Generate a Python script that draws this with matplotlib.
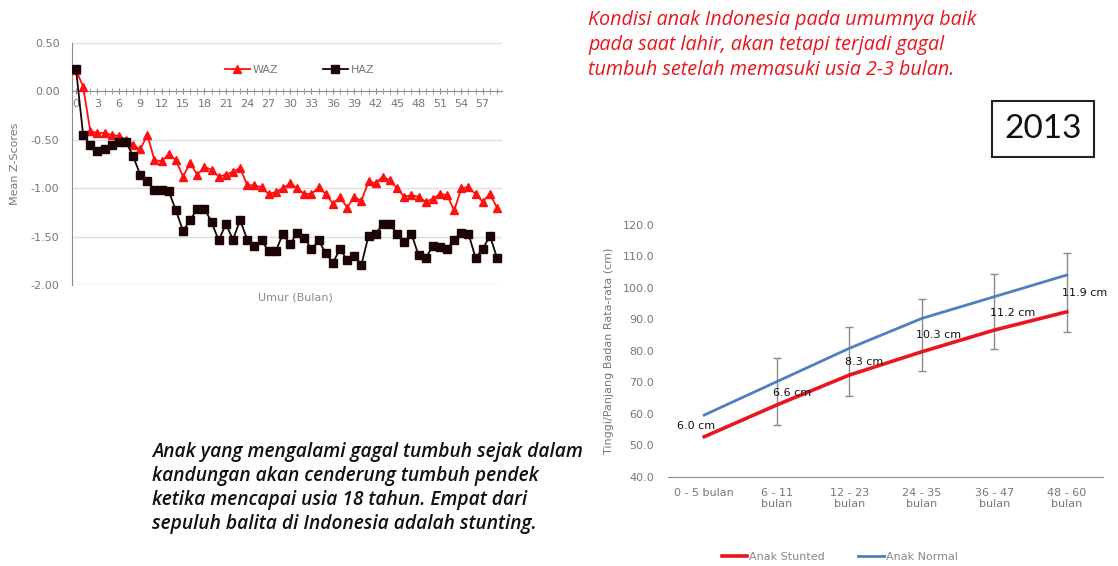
import numpy as np
import matplotlib
matplotlib.use("Agg")
import matplotlib.pyplot as plt
from matplotlib.ticker import MultipleLocator, FormatStrFormatter

W, H = 1118, 566

# ---------------- data: left chart (Z-scores by age in months) ----------------
months = list(range(60))
waz = [0.22, 0.05, -0.41, -0.43, -0.43, -0.45, -0.46, -0.50, -0.55, -0.60,
       -0.45, -0.71, -0.72, -0.65, -0.71, -0.88, -0.74, -0.86, -0.78, -0.81,
       -0.88, -0.86, -0.83, -0.79, -0.97, -0.97, -0.99, -1.06, -1.04, -1.00,
       -0.95, -1.00, -1.06, -1.06, -0.99, -1.06, -1.16, -1.09, -1.20, -1.09,
       -1.13, -0.93, -0.95, -0.88, -0.92, -1.00, -1.09, -1.07, -1.09, -1.14,
       -1.11, -1.06, -1.07, -1.23, -1.00, -0.99, -1.06, -1.14, -1.06, -1.20]
haz = [0.23, -0.45, -0.55, -0.62, -0.60, -0.55, -0.52, -0.52, -0.67, -0.86,
       -0.93, -1.02, -1.02, -1.03, -1.23, -1.44, -1.33, -1.21, -1.21, -1.35,
       -1.54, -1.37, -1.53, -1.33, -1.53, -1.60, -1.54, -1.65, -1.65, -1.47,
       -1.58, -1.46, -1.51, -1.63, -1.54, -1.67, -1.77, -1.63, -1.74, -1.70,
       -1.79, -1.49, -1.47, -1.37, -1.37, -1.47, -1.56, -1.47, -1.69, -1.72,
       -1.60, -1.61, -1.63, -1.53, -1.46, -1.47, -1.72, -1.63, -1.49, -1.72]
left_yticks = [-2.0, -1.5, -1.0, -0.5, 0.0, 0.5]

# ---------------- data: right chart (mean height by age group) ----------------
age_groups = ["0 - 5 bulan", "6 - 11\nbulan", "12 - 23\nbulan",
              "24 - 35\nbulan", "36 - 47\nbulan", "48 - 60\nbulan"]
stunted = [52.7, 62.8, 72.3, 79.7, 86.6, 92.4]
normal = [59.6, 70.2, 80.8, 90.3, 97.2, 104.1]
gap_labels = ["6.0 cm", "6.6 cm", "8.3 cm", "10.3 cm", "11.2 cm", "11.9 cm"]
err_low = [None, 56.4, 65.6, 73.6, 80.5, 86.1]
err_high = [None, 77.6, 87.5, 96.4, 104.3, 111.0]
right_yticks = [40, 50, 60, 70, 80, 90, 100, 110, 120]

plt.rcParams['font.family'] = ['DejaVu Sans']

def fx(x):
    return x / W

def fy(y):
    return 1 - y / H

fig = plt.figure(figsize=(W / 100, H / 100), dpi=100)
fig.patch.set_facecolor('white')

# ---------------- left chart ----------------
ax1 = fig.add_axes([fx(72), fy(285), (502 - 72) / W, (285 - 43) / H])
ax1.plot(months, waz, color='#ff1010', marker='^', ms=6, lw=1.3, label='WAZ', zorder=3)
ax1.plot(months, haz, color='#1c0404', marker='s', ms=5.5, lw=1.3, label='HAZ', zorder=3)
ax1.set_xlim(-0.56, 59.7)
ax1.set_ylim(-2.0, 0.5)
ax1.set_yticks(left_yticks)
ax1.yaxis.set_major_formatter(FormatStrFormatter('%.2f'))
for v in left_yticks:
    if v != 0:
        ax1.axhline(v, color='#dddddd', lw=1, zorder=0)
for s in ['top', 'right']:
    ax1.spines[s].set_visible(False)
ax1.spines['left'].set_color('#8c8c8c')
ax1.spines['bottom'].set_position(('data', 0))
ax1.spines['bottom'].set_color('#8c8c8c')
ax1.xaxis.set_major_locator(MultipleLocator(3))
ax1.xaxis.set_minor_locator(MultipleLocator(1))
ax1.tick_params(axis='x', which='both', direction='inout', length=5, color='#8c8c8c',
                labelsize=8, labelcolor='#777777', pad=3)
ax1.tick_params(axis='y', length=0, labelsize=8, labelcolor='#777777', pad=9)
ax1.set_ylabel('Mean Z-Scores', fontsize=8, color='#777777', labelpad=8)
fig.text(fx(295), fy(297), 'Umur (Bulan)', fontsize=8, color='#888888', ha='center', va='center')
ax1.legend(loc='center', bbox_to_anchor=(0.53, 0.888), ncol=2, frameon=False,
           fontsize=8, labelcolor='#777777', handlelength=2.2, columnspacing=4,
           handletextpad=0.3, markerscale=1.0)

# ---------------- right chart ----------------
ax2 = fig.add_axes([fx(668), fy(476.7), 435 / W, (476.7 - 225) / H])
xpos = np.arange(len(age_groups))
ax2.plot(xpos, stunted, color='#e8161e', lw=2.6, label='Anak Stunted', zorder=3)
ax2.plot(xpos, normal, color='#4f7fc0', lw=2.0, label='Anak Normal', zorder=3)
for i in range(len(age_groups)):
    if err_low[i] is not None:
        mid = (err_low[i] + err_high[i]) / 2
        half = (err_high[i] - err_low[i]) / 2
        ax2.errorbar([i], [mid], yerr=[[half], [half]], fmt='none', ecolor='#8a8a8a',
                     elinewidth=1, capsize=3, zorder=2)
offsets = [-8, 15, 15, 17, 18, 18]
for i, lab in enumerate(gap_labels):
    m = (stunted[i] + normal[i]) / 2
    ax2.annotate(lab, (i, m), xytext=(offsets[i] * 0.72, 0), textcoords='offset points',
                 ha='center', va='center', fontsize=8, color='#111111', zorder=4)
ax2.set_xlim(-0.5, 5.5)
ax2.set_ylim(40, 120)
ax2.set_xticks(xpos)
ax2.set_xticklabels(age_groups)
ax2.set_yticks(right_yticks)
ax2.yaxis.set_major_formatter(FormatStrFormatter('%.1f'))
for s in ['top', 'right', 'left']:
    ax2.spines[s].set_visible(False)
ax2.spines['bottom'].set_color('#8c8c8c')
ax2.tick_params(axis='x', length=0, labelsize=8, labelcolor='#777777', pad=8)
ax2.tick_params(axis='y', length=0, labelsize=8, labelcolor='#777777', pad=10)
ax2.set_ylabel('Tinggi/Panjang Badan Rata-rata (cm)', fontsize=8, color='#777777', labelpad=6)
ax2.legend(loc='center', bbox_to_anchor=(0.395, -0.319), ncol=2, frameon=False,
           fontsize=8, labelcolor='#888888', handlelength=2.3, columnspacing=3,
           handletextpad=0.2)

# ---------------- annotation texts ----------------
red_lines = ["Kondisi anak Indonesia pada umumnya baik",
             "pada saat lahir, akan tetapi terjadi gagal",
             "tumbuh setelah memasuki usia 2-3 bulan."]
for k, line in enumerate(red_lines):
    fig.text(fx(588), fy(20 + 25 * k), line, fontsize=14.2, style='italic', family='Open Sans',
             color='#e8141e', ha='left', va='center')

black_lines = ["Anak yang mengalami gagal tumbuh sejak dalam",
               "kandungan akan cenderung tumbuh pendek",
               "ketika mencapai usia 18 tahun. Empat dari",
               "sepuluh balita di Indonesia adalah stunting."]
for k, line in enumerate(black_lines):
    fig.text(fx(152), fy(452 + 24 * k), line, fontsize=13.8, style='italic', weight='semibold',
             family='Open Sans', color='#111111', ha='left', va='center')

fig.text(fx(1043), fy(129), '2013', fontsize=24, family='Lato', color='#111111',
         ha='center', va='center',
         bbox=dict(boxstyle='square,pad=0.38', fc='white', ec='#222222', lw=1.5))

fig.savefig('out.png', dpi=100, facecolor='white')
